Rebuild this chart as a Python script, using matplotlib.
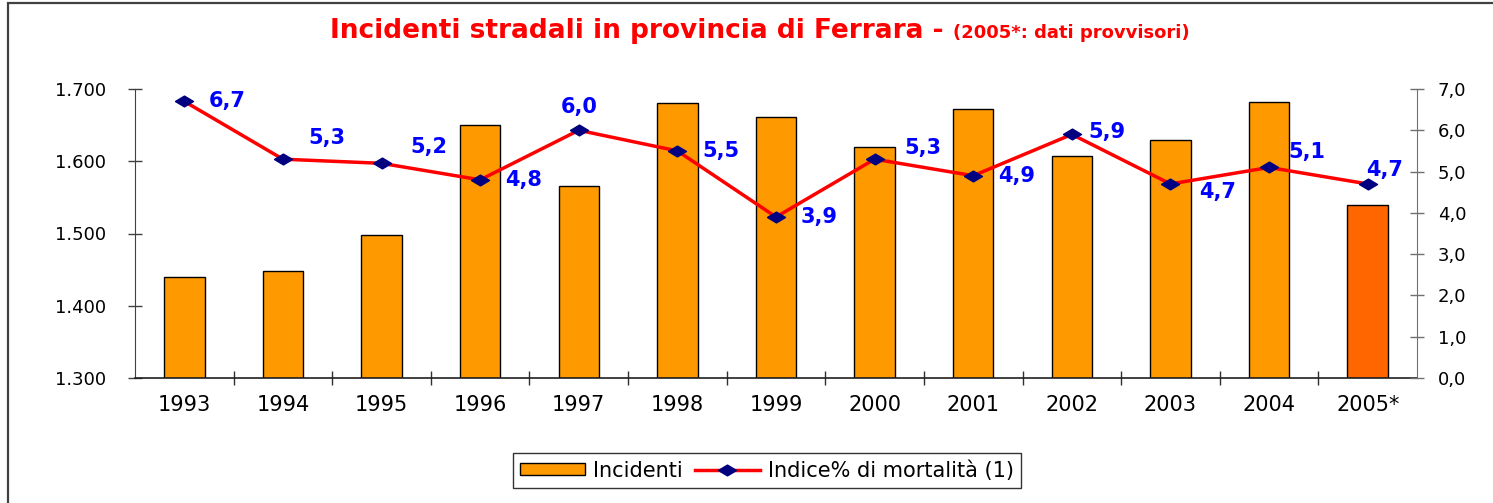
import matplotlib
matplotlib.use("Agg")
import matplotlib.pyplot as plt
from matplotlib.patches import Rectangle
from matplotlib.ticker import FuncFormatter, MultipleLocator

# data
years = ["1993", "1994", "1995", "1996", "1997", "1998", "1999",
         "2000", "2001", "2002", "2003", "2004", "2005*"]
incidenti = [1440, 1448, 1498, 1650, 1566, 1680, 1661,
             1620, 1672, 1607, 1629, 1682, 1539]
mortalita = [6.7, 5.3, 5.2, 4.8, 6.0, 5.5, 3.9, 5.3, 4.9, 5.9, 4.7, 5.1, 4.7]

# label offsets in points (layout only)
label_offsets = [(31, 0), (32, 15), (34, 12), (31, 0), (0, 17), (31, 0), (31, 0),
                 (35, 8), (31, 0), (25, 2), (34, -6), (27, 11), (12, 10)]

W, H = 1493, 503
plt.rcParams["font.family"] = ["DejaVu Sans"]

fig = plt.figure(figsize=(W / 100, H / 100), dpi=100)
fig.patch.set_facecolor("white")

# outer frame of the chart object (right and bottom edges run off the picture)
fig.patches.append(Rectangle((8 / W, -0.1), 1.2, 1 - 3 / H + 0.1, transform=fig.transFigure,
                             fill=False, edgecolor="#404040", linewidth=1.6))

ax = fig.add_axes([135 / W, 1 - 378 / H, (1417 - 135) / W, (378 - 89) / H])
x = list(range(len(years)))
colors = ["#FF6600" if y.endswith("*") else "#FF9900" for y in years]
bars = ax.bar(x, [v - 1300 for v in incidenti], bottom=1300, width=0.41,
              color=colors, edgecolor="black", linewidth=1.0, label="Incidenti")
ax.set_ylim(1300, 1700)
ax.set_xlim(-0.5, len(years) - 0.5)
ax.yaxis.set_major_locator(MultipleLocator(100))
ax.yaxis.set_major_formatter(FuncFormatter(lambda v, p: f"{v:,.0f}".replace(",", ".")))
ax.set_xticks([i + 0.5 for i in x[:-1]], minor=False)
ax.set_xticklabels([])
ax.set_xticks(x, minor=True)
ax.set_xticklabels(years, minor=True)
ax.tick_params(axis="x", which="major", direction="inout", length=10, width=1, color="#303030")
ax.tick_params(axis="x", which="minor", length=0, labelsize=15, pad=12)
ax.tick_params(axis="y", direction="inout", length=10, width=1, color="#404040",
               labelsize=13, pad=16)
for s in ["top", "right"]:
    ax.spines[s].set_visible(False)
ax.spines["left"].set_color("#404040")
ax.spines["bottom"].set_color("#202020")
ax.spines["bottom"].set_linewidth(1.2)

ax2 = ax.twinx()
diamond = [(-1, 0), (0, 0.6), (1, 0), (0, -0.6), (-1, 0)]
line, = ax2.plot(x, mortalita, color="#FF0000", linewidth=2.5, marker=diamond,
                 markersize=13, markerfacecolor="#000080", markeredgecolor="#000080",
                 label="Indice% di mortalità (1)")
ax2.set_ylim(0, 7)
ax2.yaxis.set_major_locator(MultipleLocator(1))
ax2.yaxis.set_major_formatter(FuncFormatter(lambda v, p: f"{v:.1f}".replace(".", ",")))
ax2.tick_params(axis="y", direction="inout", length=10, width=1, color="#707070",
                labelsize=13, pad=10)
for s in ["top", "left", "bottom"]:
    ax2.spines[s].set_visible(False)
ax2.spines["right"].set_color("#707070")

for xi, v, off in zip(x, mortalita, label_offsets):
    ax2.annotate(f"{v:.1f}".replace(".", ","), (xi, v), xytext=off,
                 textcoords="offset points", ha="center", va="center",
                 color="#0000FF", fontsize=15, fontweight="bold")

# title in two sizes
t1 = fig.text(0, 1 - 38.5 / H, "Incidenti stradali in provincia di Ferrara - ",
              color="#FF0000", fontsize=19, fontweight="bold", va="baseline", ha="left")
t2 = fig.text(0, 1 - 38.5 / H, "(2005*: dati provvisori)",
              color="#FF0000", fontsize=13, fontweight="bold", va="baseline", ha="left")
fig.canvas.draw()
r = fig.canvas.get_renderer()
w1 = t1.get_window_extent(r).width
w2 = t2.get_window_extent(r).width
start = 760 - (w1 + w2) / 2
t1.set_x(start / W)
t2.set_x((start + w1) / W)

leg = fig.legend([bars, line], ["Incidenti", "Indice% di mortalità (1)"],
                 loc="center", bbox_to_anchor=(767 / W, 1 - 470.5 / H), ncol=2,
                 fontsize=15, frameon=True, fancybox=False, edgecolor="black",
                 handlelength=3.1, handleheight=0.5, columnspacing=0.6,
                 handletextpad=0.4, borderpad=0.35)
leg.get_frame().set_linewidth(1.0)

fig.savefig("out.png", dpi=100)
